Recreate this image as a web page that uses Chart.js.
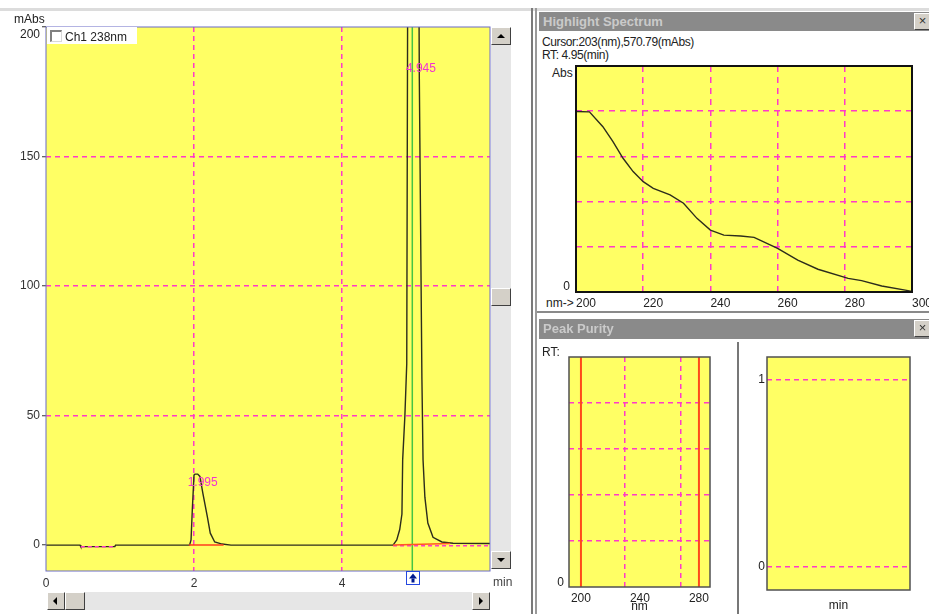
<!DOCTYPE html>
<html>
<head>
<meta charset="utf-8">
<script src="https://cdn.jsdelivr.net/npm/chart.js@4.4.0/dist/chart.umd.min.js"></script>
<style>
  html, body { margin:0; padding:0; background:#fff; width:929px; height:614px; overflow:hidden;
    font-family:"Liberation Sans", Arial, sans-serif; font-size:12px; color:#222; }
  canvas { position:absolute; }
  .txt { position:absolute; white-space:nowrap; font-size:12px; line-height:12px; color:#222; }
  .bar { position:absolute; background:#8a8a8a; color:#cacaca; font-weight:bold; font-size:13px;
    line-height:19px; padding-left:4px; box-sizing:border-box; }
  .btn { position:absolute; background:#d4d0c8; box-sizing:border-box;
    border-top:1px solid #fff; border-left:1px solid #fff; border-right:1px solid #404040; border-bottom:1px solid #404040; }
  .track { position:absolute; background:#e6e6e6; }
  .line { position:absolute; }
  .tri { position:absolute; width:0; height:0; }
</style>
</head>
<body>

<!-- window chrome -->
<div class="line" style="left:0;top:8px;width:929px;height:3px;background:#dcdcdc"></div>
<div class="line" style="left:531px;top:8px;width:2px;height:606px;background:#7a7a7a"></div>
<div class="line" style="left:535px;top:8px;width:2px;height:606px;background:#9a9a9a"></div>

<canvas id="chrom" width="492" height="600" style="left:0;top:0"></canvas>
<div class="txt" style="left:14px;top:13px">mAbs</div>
<div class="txt" style="left:17px;top:28px;width:23px;text-align:right">200</div>
<div style="position:absolute;left:47px;top:27px;width:90px;height:17px;background:#fff"></div>
<div style="position:absolute;left:50px;top:30px;width:12px;height:12px;box-sizing:border-box;background:#fff;
  border-top:2px solid #808080;border-left:2px solid #808080;border-right:1px solid #d8d8d8;border-bottom:1px solid #d8d8d8"></div>
<div class="txt" style="left:65px;top:31px">Ch1 238nm</div>

<!-- vertical scrollbar -->
<div class="track" style="left:491px;top:27px;width:20px;height:542px"></div>
<div class="btn" style="left:491px;top:27px;width:20px;height:18px"></div>
<div class="tri" style="left:497px;top:34px;border-left:4px solid transparent;border-right:4px solid transparent;border-bottom:4px solid #000"></div>
<div class="btn" style="left:491px;top:288px;width:20px;height:18px"></div>
<div class="btn" style="left:491px;top:551px;width:20px;height:18px"></div>
<div class="tri" style="left:497px;top:558px;border-left:4px solid transparent;border-right:4px solid transparent;border-top:4px solid #000"></div>
<div class="txt" style="left:493px;top:576px;color:#444">min</div>

<!-- horizontal scrollbar -->
<div class="track" style="left:47px;top:592px;width:443px;height:18px"></div>
<div class="btn" style="left:47px;top:592px;width:18px;height:18px"></div>
<div class="tri" style="left:53px;top:597px;border-top:4px solid transparent;border-bottom:4px solid transparent;border-right:4px solid #000"></div>
<div class="btn" style="left:65px;top:592px;width:20px;height:18px"></div>
<div class="btn" style="left:472px;top:592px;width:18px;height:18px"></div>
<div class="tri" style="left:479px;top:597px;border-top:4px solid transparent;border-bottom:4px solid transparent;border-left:4px solid #000"></div>

<!-- Highlight Spectrum panel -->
<div class="bar" style="left:539px;top:12px;width:390px;height:19px">Highlight Spectrum</div>
<div class="btn" style="left:914px;top:13px;width:17px;height:17px;font-size:13px;line-height:14px;text-align:center;color:#333">×</div>
<div class="txt" style="left:542px;top:36px;letter-spacing:-0.4px">Cursor:203(nm),570.79(mAbs)</div>
<div class="txt" style="left:542px;top:49px;letter-spacing:-0.4px">RT: 4.95(min)</div>
<div class="txt" style="left:552px;top:67px">Abs</div>
<div class="txt" style="left:546px;top:297px">nm-&gt;</div>
<canvas id="spec" width="392" height="254" style="left:537px;top:60px"></canvas>

<!-- Peak Purity panel -->
<div class="line" style="left:537px;top:311px;width:392px;height:2px;background:#8a8a8a"></div>
<div class="bar" style="left:539px;top:319px;width:390px;height:20px;line-height:20px">Peak Purity</div>
<div class="btn" style="left:914px;top:320px;width:17px;height:17px;font-size:13px;line-height:14px;text-align:center;color:#333">×</div>
<div class="txt" style="left:542px;top:346px">RT:</div>
<div class="line" style="left:737px;top:342px;width:2px;height:272px;background:#777"></div>
<canvas id="purL" width="199" height="271" style="left:537px;top:343px"></canvas>
<canvas id="purR" width="189" height="271" style="left:740px;top:343px"></canvas>

<script>
// chromatogram, Ch1 238nm
const rtMin = [0, 0.46, 0.47, 0.93, 0.94, 1.94, 1.96, 1.977, 2.0, 2.014, 2.05, 2.08, 2.12, 2.18, 2.22, 2.28, 2.38, 2.5,
  4.69, 4.74, 4.78, 4.81, 4.82, 4.85, 4.875, 4.895, 4.93, 4.96, 4.99, 5.02, 5.045, 5.08, 5.095, 5.12, 5.16, 5.23, 5.35, 5.5, 6.0];
const signalMAbs = [0, 0, -0.6, -0.6, 0, 0, 2, 13.5, 27, 27.4, 27.4, 26.5, 20, 11, 4.6, 1.2, 0.4, 0,
  0, 2, 6, 12, 33, 50, 70, 300, 480, 520, 470, 330, 180, 64, 33, 18.5, 8.5, 3, 1.2, 0.7, 0.6];
const peakRT = [1.995, 4.945];
const peakLabelLevel = [24, 184];
const cursorRT = 4.95;
const base1RT = [1.93, 2.40];
const base1Val = [0, 0];
const base2RT = [4.69, 5.46];
const base2Val = [0, 0.6];
const mark1RT = [0.47, 0.93];
const mark1Val = [-0.6, -0.6];
const mark2RT = [4.69, 6.0];
const mark2Val = [-0.3, -0.3];
const timeTicks = [0, 2, 4, 6];
const mAbsTicks = [0, 50, 100, 150, 200];

// highlight spectrum at RT 4.95 min
const specNm = [200, 204, 208, 211, 214, 217, 220, 223, 228, 232, 236, 240, 244, 249, 253, 260, 266, 272, 281, 285, 291, 298, 300];
const specMAbs = [571, 570, 523, 476, 423, 381, 349, 328, 307, 281, 233, 196, 180, 177, 173, 138, 101, 72, 43, 36, 19, 6, 2];
const specNmTicks = [200, 220, 240, 260, 280, 300];
const specAbsTicks = [0, 143, 286, 429, 572, 715];

// peak purity
const purityRange = [200, 280];
const purityNmLabels = [200, 240, 280];
const purityNmGrid = [229.5, 268];
const purityLevels = [0, 1, 2, 3, 4, 5];
const purityTicks = [0, 1];

const MAG = '#ff3ac8';
const NONE = 'rgba(0,0,0,0)';
const YEL = '#ffff64';

Chart.defaults.font.family = '"Liberation Sans", Arial, sans-serif';
Chart.defaults.font.size = 12;
Chart.defaults.color = '#333';

const pts = (xs, ys) => xs.map((x, i) => ({ x: x, y: ys[i] }));
const setTicks = vals => axis => { axis.ticks = vals.map(v => ({ value: v })); };
const fitY = w => a => { a.width = w; a.paddingTop = 0; a.paddingBottom = 0; };
const fitX = h => a => { a.height = h; a.paddingLeft = 0; a.paddingRight = 0; };

const panelFrame = {
  id: 'panelFrame',
  beforeDraw(chart, args, opts) {
    const { ctx, chartArea: a } = chart;
    ctx.save();
    ctx.fillStyle = opts.fill;
    ctx.fillRect(a.left, a.top, a.width, a.height);
    ctx.restore();
  },
  afterDraw(chart, args, opts) {
    const { ctx, chartArea: a } = chart;
    ctx.save();
    ctx.strokeStyle = opts.color;
    ctx.lineWidth = opts.width;
    ctx.strokeRect(a.left, a.top, a.width, a.height);
    ctx.restore();
  }
};

function arrowIcon(ctx, cx, top, fill) {
  const s = 13;
  const l = Math.round(cx - s / 2) + 0.5;
  ctx.save();
  ctx.fillStyle = fill;
  ctx.fillRect(l, top + 0.5, s, s);
  ctx.strokeStyle = '#2448e0';
  ctx.lineWidth = 1;
  ctx.strokeRect(l, top + 0.5, s, s);
  ctx.fillStyle = '#001a90';
  const c = l + s / 2;
  ctx.beginPath();
  ctx.moveTo(c, top + 2.5);
  ctx.lineTo(c + 4, top + 7.5);
  ctx.lineTo(c - 4, top + 7.5);
  ctx.closePath();
  ctx.fill();
  ctx.fillRect(c - 1.5, top + 7.5, 3, 4);
  ctx.restore();
}

const peakLabels = {
  id: 'peakLabels',
  afterDatasetsDraw(chart) {
    const { ctx, scales: { x, y } } = chart;
    ctx.save();
    ctx.font = '12px "Liberation Sans", Arial, sans-serif';
    ctx.fillStyle = '#f232d2';
    ctx.textAlign = 'left';
    ctx.textBaseline = 'middle';
    peakRT.forEach((rt, i) => {
      ctx.fillText(rt.toFixed(3), x.getPixelForValue(rt) - 6, y.getPixelForValue(peakLabelLevel[i]));
    });
    ctx.restore();
  }
};

const cursorMarker = {
  id: 'cursorMarker',
  afterDraw(chart) {
    arrowIcon(chart.ctx, chart.scales.x.getPixelForValue(cursorRT), chart.chartArea.bottom, '#ffffff');
  }
};

const rangeMarkers = {
  id: 'rangeMarkers',
  afterDraw(chart) {
    purityRange.forEach(nm => arrowIcon(chart.ctx, chart.scales.x.getPixelForValue(nm), 601, '#9cc4ff'));
  }
};

const base = {
  responsive: false,
  animation: false,
  devicePixelRatio: 1,
  elements: { point: { radius: 0 }, line: { tension: 0 } },
  events: []
};

// main chromatogram
new Chart(document.getElementById('chrom'), {
  type: 'line',
  data: {
    datasets: [
      { data: pts(base1RT, base1Val), borderColor: '#ff3c1e', borderWidth: 1.5, order: 0 },
      { data: pts(base2RT, base2Val), borderColor: '#ff5a1e', borderWidth: 1.5, order: 0 },
      { data: pts(mark1RT, mark1Val), borderColor: MAG, borderWidth: 1.5, borderDash: [4, 3], order: 1 },
      { data: pts(mark2RT, mark2Val), borderColor: MAG, borderWidth: 1.5, borderDash: [4, 3], order: 1 },
      { data: pts(rtMin, signalMAbs), borderColor: '#2c2c1c', borderWidth: 1.4, order: 2 },
      { data: pts([cursorRT, cursorRT], [-10, 200]), borderColor: '#44c444', borderWidth: 1.5, order: 3 }
    ]
  },
  options: {
    ...base,
    layout: { padding: { top: 27, right: 2, left: 0, bottom: 0 } },
    plugins: { legend: { display: false }, tooltip: { enabled: false },
      panelFrame: { fill: YEL, color: '#6a6ac8', width: 1 } },
    scales: {
      x: {
        type: 'linear', min: 0, max: 6,
        afterBuildTicks: setTicks(timeTicks),
        afterFit: fitX(29),
        ticks: { padding: 5, callback: v => (v === 6 ? '' : String(v)) },
        grid: { color: c => (c.tick && c.tick.value > 0 && c.tick.value < 6 ? MAG : NONE), lineWidth: 1.5, drawTicks: false },
        border: { display: false, dash: [5, 4] }
      },
      y: {
        type: 'linear', min: -10, max: 200,
        afterBuildTicks: setTicks(mAbsTicks),
        afterFit: fitY(46),
        ticks: { padding: 2, callback: v => (v === 200 ? '' : String(v)) },
        grid: { color: c => (c.tick && c.tick.value > 0 && c.tick.value < 200 ? MAG : NONE), lineWidth: 1.5,
          tickLength: 4, tickColor: '#333', tickWidth: 1 },
        border: { display: false, dash: [5, 4] }
      }
    }
  },
  plugins: [panelFrame, peakLabels, cursorMarker]
});

// highlight spectrum
new Chart(document.getElementById('spec'), {
  type: 'line',
  data: { datasets: [{ data: pts(specNm, specMAbs), borderColor: '#2c2c1c', borderWidth: 1.4 }] },
  options: {
    ...base,
    layout: { padding: { top: 6, right: 17, left: 0, bottom: 0 } },
    plugins: { legend: { display: false }, tooltip: { enabled: false },
      panelFrame: { fill: YEL, color: '#111', width: 2 } },
    scales: {
      x: {
        type: 'linear', min: 200, max: 300,
        afterBuildTicks: setTicks(specNmTicks),
        afterFit: fitX(22),
        ticks: { padding: 4, align: 'start', color: '#222' },
        grid: { color: c => (c.tick && c.tick.value > 200 && c.tick.value < 300 ? MAG : NONE), lineWidth: 1.5, drawTicks: false },
        border: { display: false, dash: [6, 5] }
      },
      y: {
        type: 'linear', min: 0, max: 715,
        afterBuildTicks: setTicks(specAbsTicks),
        afterFit: fitY(39),
        ticks: { padding: 6, labelOffset: -5, color: '#222', callback: v => (v === 0 ? '0' : '') },
        grid: { color: c => (c.tick && c.tick.value > 0 && c.tick.value < 715 ? MAG : NONE), lineWidth: 1.5, drawTicks: false },
        border: { display: false, dash: [6, 5] }
      }
    }
  },
  plugins: [panelFrame]
});

// peak purity, wavelength range
new Chart(document.getElementById('purL'), {
  type: 'line',
  data: {
    datasets: purityRange.map(nm => ({
      data: pts([nm, nm], [0, 5]), borderColor: '#ff4a1a', borderWidth: 2
    }))
  },
  options: {
    ...base,
    layout: { padding: { top: 14, right: 26, left: 0, bottom: 0 } },
    plugins: { legend: { display: false }, tooltip: { enabled: false },
      panelFrame: { fill: YEL, color: '#505050', width: 1.5 } },
    scales: {
      x: {
        type: 'linear', min: 191.9, max: 287.5,
        afterBuildTicks: setTicks(purityNmLabels.concat(purityNmGrid).sort((a, b) => a - b)),
        afterFit: fitX(27),
        ticks: { padding: 4, color: '#222', callback: v => (purityNmLabels.includes(v) ? String(v) : '') },
        title: { display: true, text: 'nm', color: '#222', padding: { top: 0, bottom: 0 } },
        grid: { color: c => (c.tick && purityNmGrid.includes(c.tick.value) ? MAG : NONE), lineWidth: 1.5, drawTicks: false },
        border: { display: false, dash: [5, 4] }
      },
      y: {
        type: 'linear', min: 0, max: 5,
        afterBuildTicks: setTicks(purityLevels),
        afterFit: fitY(32),
        ticks: { padding: 5, labelOffset: -4, color: '#222', callback: v => (v === 0 ? '0' : '') },
        grid: { color: c => (c.tick && c.tick.value > 0 && c.tick.value < 5 ? MAG : NONE), lineWidth: 1.5, drawTicks: false },
        border: { display: false, dash: [5, 4] }
      }
    }
  },
  plugins: [panelFrame, rangeMarkers]
});

// peak purity vs time
new Chart(document.getElementById('purR'), {
  type: 'line',
  data: { datasets: [] },
  options: {
    ...base,
    layout: { padding: { top: 14, right: 19, left: 0, bottom: 0 } },
    plugins: { legend: { display: false }, tooltip: { enabled: false },
      panelFrame: { fill: YEL, color: '#505050', width: 1.5 } },
    scales: {
      x: {
        type: 'linear', min: 0, max: 1,
        afterFit: fitX(24),
        ticks: { display: false },
        title: { display: true, text: 'min', color: '#222', padding: { top: 0, bottom: 1 } },
        grid: { display: false },
        border: { display: false }
      },
      y: {
        type: 'linear', min: -0.123, max: 1.123,
        afterBuildTicks: setTicks(purityTicks),
        afterFit: fitY(27),
        ticks: { padding: 2, color: '#222' },
        grid: { color: MAG, lineWidth: 1.5, drawTicks: false },
        border: { display: false, dash: [5, 4] }
      }
    }
  },
  plugins: [panelFrame]
});
</script>
</body>
</html>
